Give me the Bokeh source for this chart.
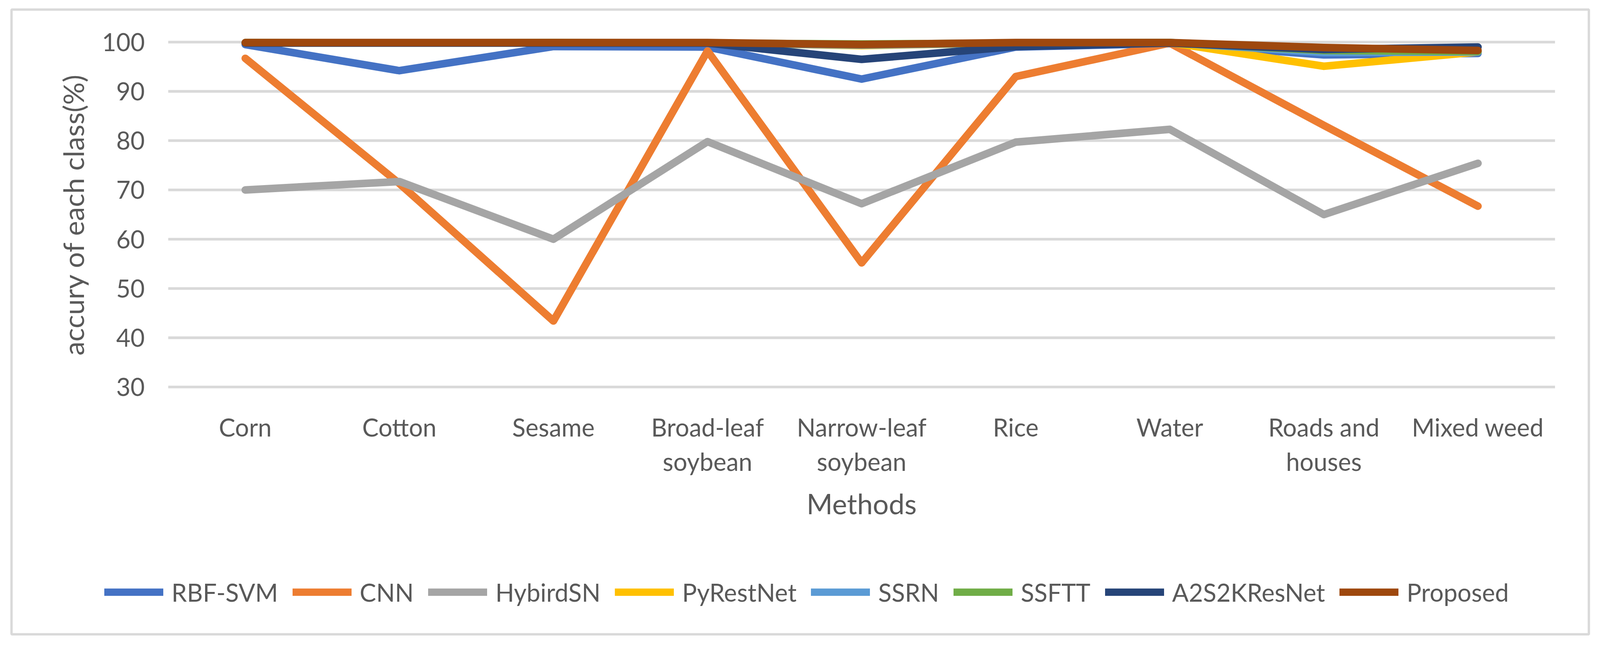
import math
from bokeh.plotting import figure
from bokeh.models import Range1d, FixedTicker, Legend, LegendItem, Label
from bokeh.embed import file_html
from bokeh.resources import INLINE

categories = ["Corn", "Cotton", "Sesame", "Broad-leaf soybean", "Narrow-leaf soybean",
              "Rice", "Water", "Roads and houses", "Mixed weed"]
tick_labels = ["Corn", "Cotton", "Sesame", "Broad-leaf\nsoybean", "Narrow-leaf\nsoybean",
               "Rice", "Water", "Roads and\nhouses", "Mixed weed"]
y_ticks = [30, 40, 50, 60, 70, 80, 90, 100]

series_names = ["RBF-SVM", "CNN", "HybirdSN", "PyRestNet", "SSRN", "SSFTT", "A2S2KResNet", "Proposed"]
rbf_svm = [99.5, 94.2, 99.1, 99.0, 92.5, 99.0, 99.7, 97.4, 97.7]
cnn = [96.7, 71.3, 43.4, 98.2, 55.2, 93.0, 99.8, 83.1, 66.7]
hybirdsn = [70.0, 71.7, 60.0, 79.8, 67.2, 79.7, 82.3, 65.0, 75.4]
pyrestnet = [99.8, 99.8, 99.8, 99.8, 99.3, 99.8, 99.9, 95.1, 98.0]
ssrn = [99.8, 99.8, 99.8, 99.8, 99.4, 99.8, 99.9, 97.9, 98.0]
ssftt = [99.9, 99.8, 99.9, 99.8, 99.6, 99.8, 99.9, 98.3, 98.1]
a2s2kresnet = [99.8, 99.8, 99.8, 99.8, 96.5, 99.1, 99.8, 98.5, 99.0]
proposed = [99.9, 99.9, 99.9, 99.9, 99.5, 99.9, 99.9, 98.9, 98.3]
series_values = [rbf_svm, cnn, hybirdsn, pyrestnet, ssrn, ssftt, a2s2kresnet, proposed]
series_colors = ["#4472C4", "#ED7D31", "#A5A5A5", "#FFC000", "#5B9BD5", "#70AD47", "#264478", "#9E480E"]

FONT = "Lato"
TEXT = "#595959"
GRID = "#D9D9D9"

n = len(categories)
xpos = [i + 0.5 for i in range(n)]

# The frame is the whole chart area (its outline is the chart border); the
# value area spans x 0..n and y 30..100 inside it.
p = figure(width=4080, height=1637,
           x_range=Range1d(-1.017, n + 0.2197), y_range=Range1d(-20.18, 106.6),
           output_backend="svg", toolbar_location=None,
           min_border_left=29, min_border_right=13,
           min_border_top=24, min_border_bottom=13)
p.outline_line_color = GRID
p.outline_line_width = 6
p.background_fill_color = "white"
p.border_fill_color = "white"
p.xgrid.grid_line_color = None
p.ygrid.grid_line_color = None

# horizontal value grid lines across the category area
p.segment(x0=[0] * len(y_ticks), x1=[n] * len(y_ticks), y0=y_ticks, y1=y_ticks,
          line_color=GRID, line_width=6.8)

# y axis at the left edge of the category area
ya = p.yaxis[0]
ya.fixed_location = 0
ya.ticker = FixedTicker(ticks=y_ticks)
ya.axis_line_color = None
ya.major_tick_line_color = None
ya.minor_tick_line_color = None
ya.major_tick_in = 0
ya.major_tick_out = 0
ya.major_label_standoff = 60
ya.major_label_text_font = FONT
ya.major_label_text_font_size = "63px"
ya.major_label_text_color = TEXT

# x axis at the bottom of the value area
xa = p.xaxis[0]
xa.fixed_location = y_ticks[0] - 0.1
xa.ticker = FixedTicker(ticks=xpos)
xa.major_label_overrides = {x: lab for x, lab in zip(xpos, tick_labels)}
xa.axis_line_color = None
xa.major_tick_line_color = None
xa.minor_tick_line_color = None
xa.major_tick_in = 0
xa.major_tick_out = 0
xa.major_label_standoff = 64
xa.major_label_text_font = FONT
xa.major_label_text_font_size = "63px"
xa.major_label_text_line_height = 1.167
xa.major_label_text_color = TEXT

# axis titles
p.add_layout(Label(x=0, y=(y_ticks[0] + y_ticks[-1]) / 2, x_offset=-244,
                   text="accury of each class(%)", angle=math.pi / 2,
                   text_align="center", text_baseline="middle",
                   text_font=FONT, text_font_size="72px", text_color=TEXT))
p.add_layout(Label(x=n / 2, y=y_ticks[0], y_offset=-298,
                   text="Methods",
                   text_align="center", text_baseline="middle",
                   text_font=FONT, text_font_size="72px", text_color=TEXT))

items = []
for name, vals, col in zip(series_names, series_values, series_colors):
    r = p.line(xpos, vals, line_color=col, line_width=19.5,
               line_cap="round", line_join="round")
    items.append(LegendItem(label=name, renderers=[r]))

legend = Legend(items=items, orientation="horizontal", location=(238, 70))
legend.padding = 0
legend.margin = 0
legend.spacing = 37
legend.glyph_width = 151
legend.glyph_height = 19
legend.label_standoff = 21
legend.label_text_font = FONT
legend.label_text_font_size = "63px"
legend.label_text_color = TEXT
legend.border_line_color = None
legend.background_fill_alpha = 0
p.add_layout(legend)

open("out.html", "w").write(file_html(p, INLINE))
